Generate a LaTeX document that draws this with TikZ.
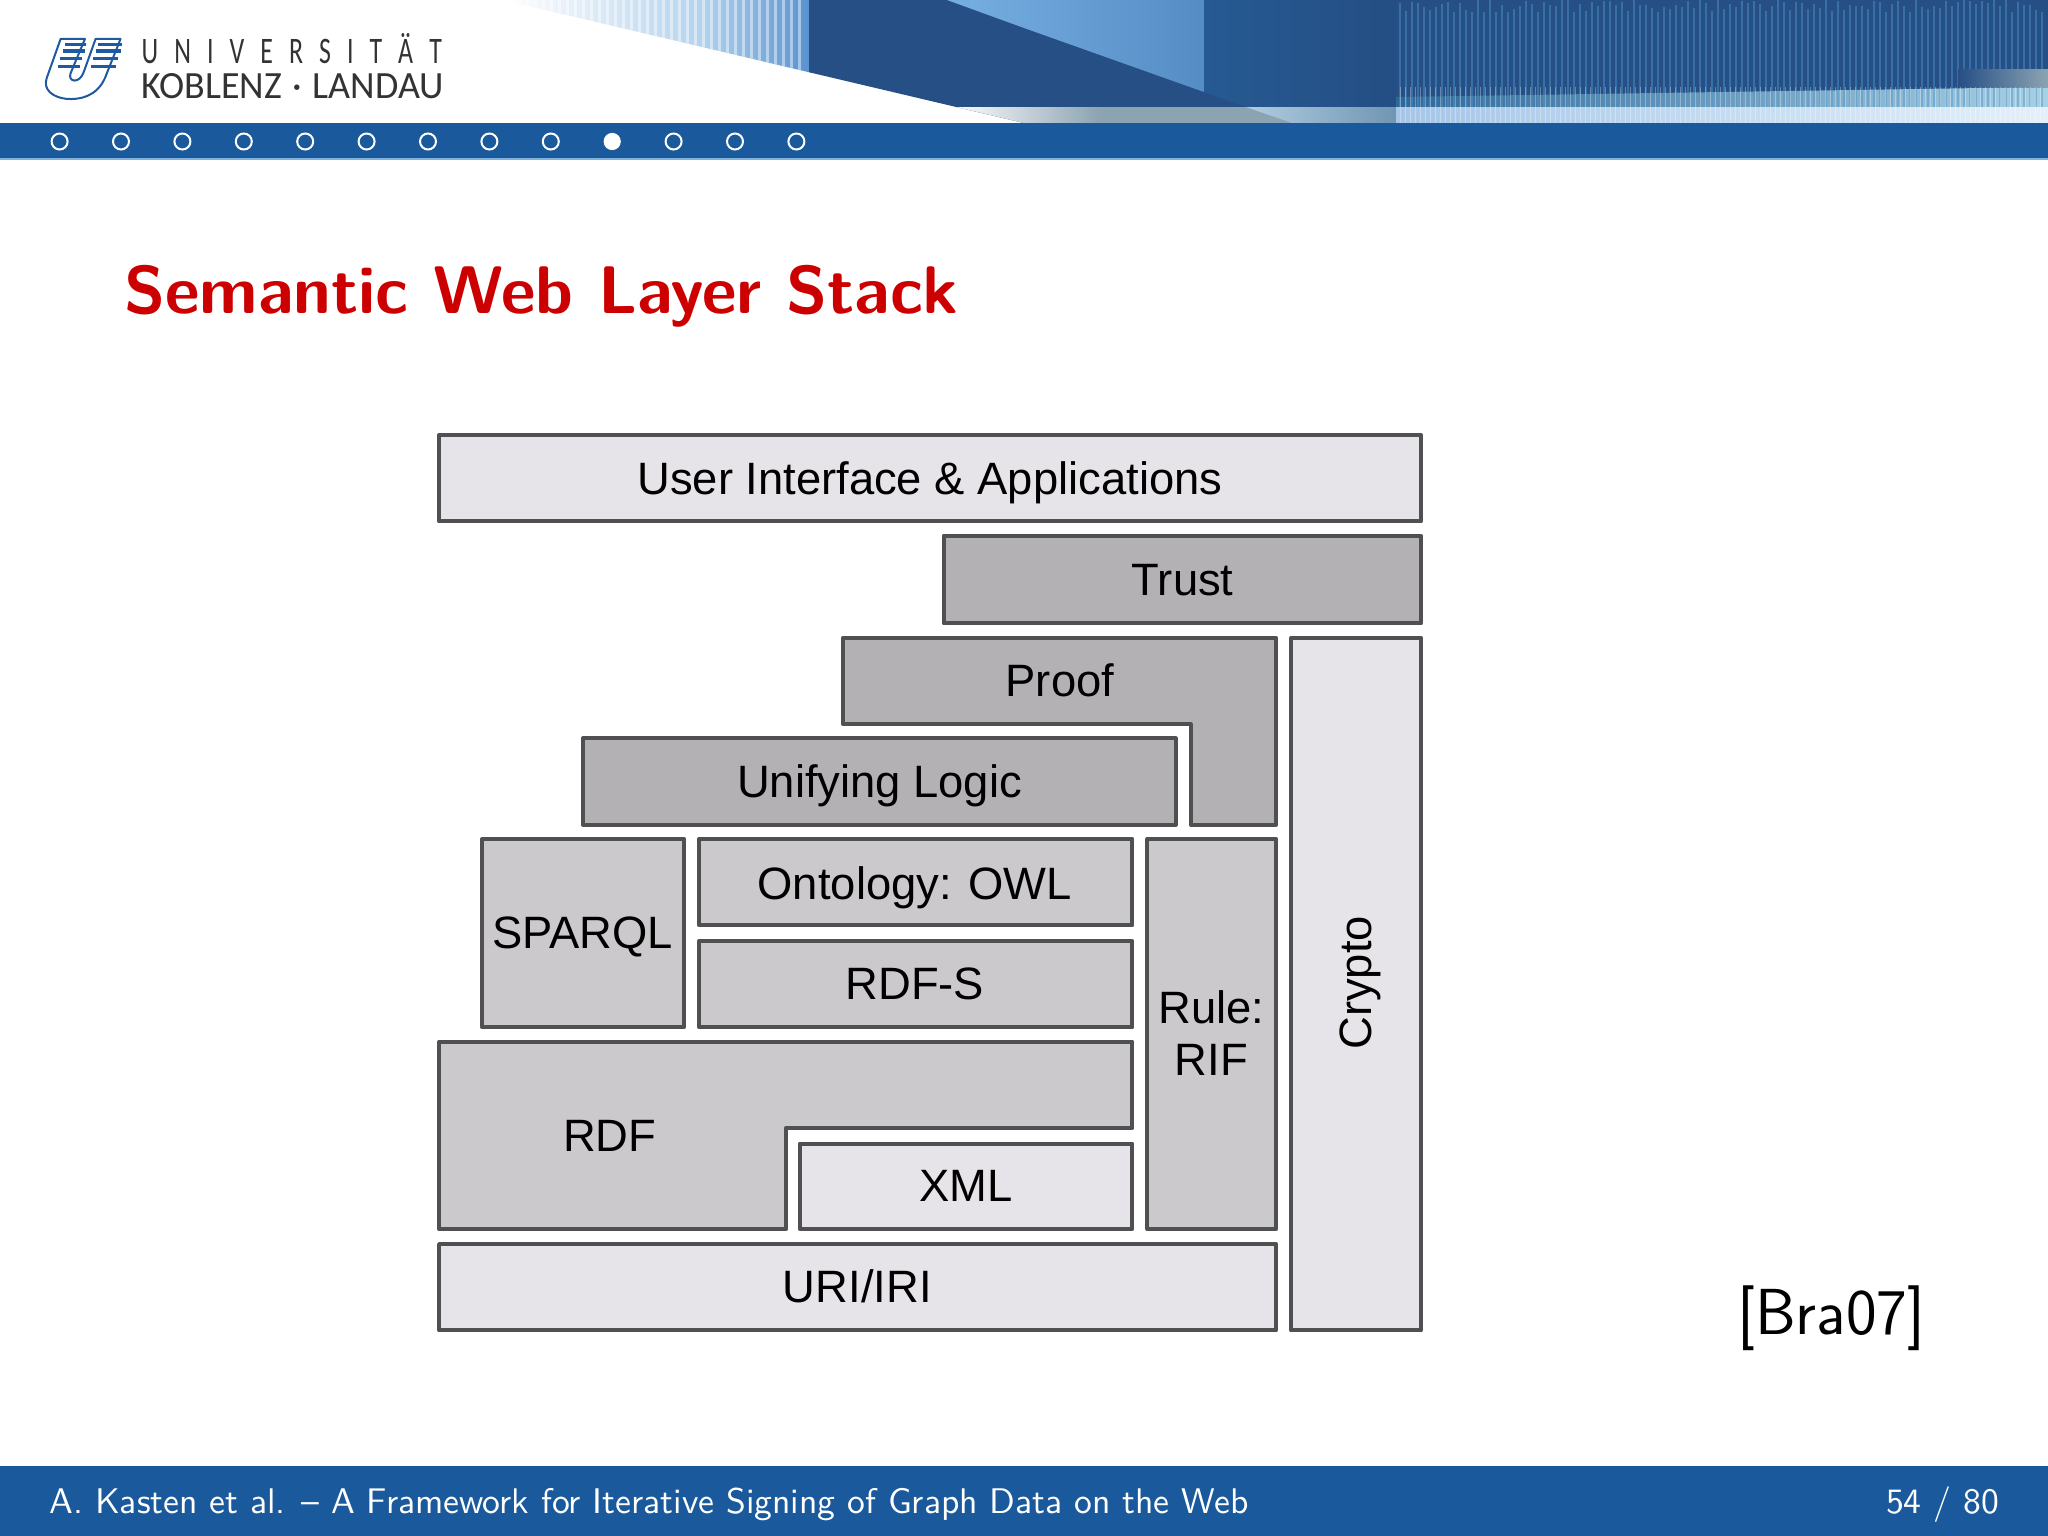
\documentclass[tikz,border=0pt]{standalone}
\usepackage{fontspec}
\newfontfamily\lsans{Liberation Sans}
\newfontfamily\logofont{Carlito}
\definecolor{barblue}{HTML}{1A5A9C}
\definecolor{edgeblue}{HTML}{7FB2DC}
\definecolor{titlered}{HTML}{CC0000}
\definecolor{layline}{HTML}{505053}
\definecolor{laylight}{HTML}{E6E4E8}
\definecolor{laymid}{HTML}{CBC9CC}
\definecolor{laydark}{HTML}{B3B1B4}
\definecolor{logoblue}{HTML}{1F5AA0}
\definecolor{darkblock}{HTML}{264F85}
\definecolor{hA}{HTML}{B5D3EE}
\definecolor{hB}{HTML}{5892D0}
\definecolor{hC}{HTML}{78AFE2}
\definecolor{hD}{HTML}{558CC4}
\definecolor{hE}{HTML}{265A92}
\definecolor{hF}{HTML}{244E84}
\definecolor{hG}{HTML}{2E6898}
\definecolor{hH}{HTML}{A8D0E4}
\definecolor{hI}{HTML}{5096CD}
\definecolor{hJ}{HTML}{8CA3B2}
\definecolor{hK}{HTML}{B0CCE0}
\definecolor{hL}{HTML}{7096B2}
\definecolor{hM}{HTML}{A5C6E8}
\definecolor{hN}{HTML}{E4F0FA}
\tikzset{
  lay/.style={draw=layline,line width=0.04cm,line join=round},
  lab/.style={font=\lsans\fontsize{12.9}{14.8}\selectfont,text=black,inner sep=0pt,align=center,anchor=base},
  px/.style={x=0.01cm,y=-0.01cm},
  un/.style={x=0.0130612cm,y=-0.0130612cm},
  bulletdot/.style={draw=white,line width=0.02cm},
}
\begin{document}
\begin{tikzpicture}[px]
\useasboundingbox (0,0) rectangle (2048,1536);
\fill[white] (0,0) rectangle (2048,1536);
% ---- header picture
\begin{scope}
  \clip (503,0) -- (2048,0) -- (2048,123) -- (1024,123) -- cycle;
  \shade[left color=white,right color=hA] (503,0) rectangle (700,123);
  \shade[left color=hA,right color=hB] (700,0) rectangle (810,123);
  \foreach \i in {510,518,...,805}{\fill[white,opacity=.45] (\i,0) rectangle (\i+3,123);}
  \fill[darkblock] (809,0) rectangle (1250,123);
  \shade[left color=hC,right color=hD]
     (947,0) -- (1204,0) -- (1204,92) -- (1024,28) -- cycle;
  \shade[left color=hE,right color=hF]
     (1204,0) -- (1396,0) -- (1396,107) -- (1246,107) -- (1204,92) -- cycle;
  \fill[darkblock] (1396,0) rectangle (2048,107);
  \shade[left color=hG,right color=hH] (1396,97) -- (2048,87) -- (2048,107) -- (1396,107) -- cycle;
  \pgfmathsetseed{7}
  \foreach \i in {1400,1406,...,2044}{
    \pgfmathsetmacro{\st}{random(0,12)}
    \draw[hI,line width=0.012cm,opacity=.45] (\i,\st) -- (\i,107);
  }
  \shade[left color=darkblock,right color=hJ] (1958,69) rectangle (2048,87);
  \shade[left color=white,right color=hJ] (950,107) rectangle (1100,123);
  \fill[hJ] (1100,107) rectangle (1292,123);
  \shade[left color=hK,right color=hL]
     (1246,107) -- (1396,107) -- (1396,123) -- (1292,123) -- cycle;
  \shade[left color=hM,right color=hN] (1396,107) rectangle (2048,123);
  \foreach \i in {1400,1405,...,2044}{
    \draw[white,line width=0.01cm,opacity=.3] (\i,87) -- (\i,123);
  }
\end{scope}
% ---- top bar
\fill[barblue] (0,123) rectangle (2048,159);
\fill[edgeblue] (0,158.4) rectangle (2048,160);
\foreach \k in {0,...,12}{
  \ifnum\k=9
    \fill[white] (59.6+61.4*\k,141.5) circle (8.6);
  \else
    \draw[bulletdot] (59.6+61.4*\k,141.5) circle (8);
  \fi
}
% ---- logo
\begin{scope}[shift={(30,25)},x=0.00333cm,y=-0.00333cm]
  \draw[logoblue,line width=0.02cm,line join=round]
    (92,42) -- (165,42) -- (122,145) .. controls (112,172) and (150,178) .. (162,140)
    -- (197,42) -- (272,42) -- (225,160) .. controls (200,215) and (150,225) .. (110,222)
    .. controls (70,218) and (38,195) .. (50,160) -- cycle;
  \foreach \yy/\a/\b in {58/105/168,78/98/165,100/90/155,125/84/150}{
    \draw[logoblue,line width=0.035cm] (\a,\yy) -- (\b,\yy);
    \draw[logoblue,line width=0.035cm] (\a+100,\yy) -- (\b+108,\yy);
  }
\end{scope}
\node[anchor=base west,inner sep=0pt,text=black!80] (logotop) at (141,63)
  {\resizebox{3cm}{0.3cm}{\logofont U\hspace{.62em}N\hspace{.62em}I\hspace{.62em}V\hspace{.62em}E\hspace{.62em}R\hspace{.62em}S\hspace{.62em}I\hspace{.62em}T\hspace{.62em}Ä\hspace{.62em}T}};
\node[anchor=base west,inner sep=0pt,text=black!80] (logobot) at (141,98)
  {\resizebox{3.02cm}{0.25cm}{\logofont KOBLENZ\;·\;LANDAU}};
% ---- footer
\fill[barblue] (0,1466) rectangle (2048,1536);
\begin{scope}[un]
  \node[anchor=base west,inner sep=0pt,text=white,font=\sffamily\fontsize{10.13}{13}\selectfont] (foot) at (37.5,1158)
     {A. Kasten et al. -- A Framework for Iterative Signing of Graph Data on the Web};
  \node[anchor=base east,inner sep=0pt,text=white,font=\sffamily\fontsize{10.13}{13}\selectfont] (page) at (1530,1158) {54 / 80};
  \node[anchor=base west,inner sep=0pt,text=titlered,font=\sffamily\bfseries\fontsize{19.15}{23}\selectfont] (title) at (94.5,239.5)
     {Semantic Web Layer Stack};
  \node[anchor=base east,inner sep=0pt,text=black,font=\sffamily\fontsize{18.5}{22}\selectfont] (cite) at (1473.5,1021) {[Bra07]};
  % ---- layers
  \draw[lay,fill=laylight] (336,333) rectangle (1087.3,399);
  \draw[lay,fill=laydark] (722,410) rectangle (1087.3,477);
  \draw[lay,fill=laydark] (645,488) -- (976.5,488) -- (976.5,631) -- (911,631) -- (911,554) -- (645,554) -- cycle;
  \draw[lay,fill=laydark] (446,565) rectangle (899.5,631);
  \draw[lay,fill=laymid] (369,642) rectangle (523.5,786);
  \draw[lay,fill=laymid] (535,642) rectangle (866.5,708);
  \draw[lay,fill=laymid] (535,720) rectangle (866.5,786);
  \draw[lay,fill=laymid] (336,797) -- (866.5,797) -- (866.5,863) -- (601.5,863) -- (601.5,940.5) -- (336,940.5) -- cycle;
  \draw[lay,fill=laylight] (612,875) rectangle (866.5,940.5);
  \draw[lay,fill=laymid] (878,642) rectangle (976.5,940.5);
  \draw[lay,fill=laylight] (988,488) rectangle (1087.3,1018);
  \draw[lay,fill=laylight] (336,952) rectangle (976.5,1018);
  \node[lab] (ui) at (711.5,378.5) {User Interface \& Applications};
  \node[lab] (trust) at (905,456) {Trust};
  \node[lab] (proof) at (811,533) {Proof};
  \node[lab] (logic) at (673,610) {Unifying Logic};
  \node[lab] (sparql) at (446,726) {SPARQL};
  \node[lab] (owl) at (700,688) {Ontology: OWL};
  \node[lab] (rdfs) at (700,765) {RDF-S};
  \node[lab] (rdf) at (466.5,881) {RDF};
  \node[lab] (xml) at (739,919) {XML};
  \node[lab] (uri) at (656,997) {URI/IRI};
  \node[lab,anchor=center] (rule) at (927,790.5) {Rule:\\RIF};
  \node[lab,rotate=90] (crypto) at (1049.5,752) {Crypto};
\end{scope}
\end{tikzpicture}
\end{document}
